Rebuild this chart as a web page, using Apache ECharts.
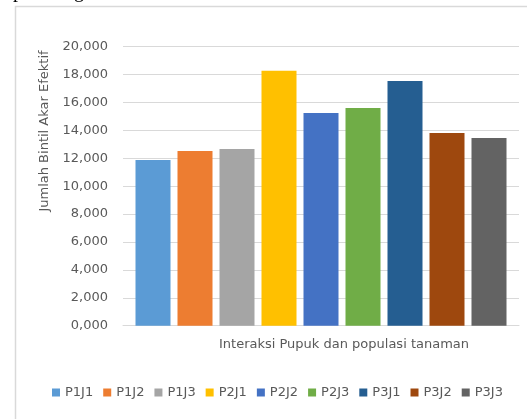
<!DOCTYPE html>
<html>
<head>
<meta charset="utf-8">
<title>Jumlah Bintil Akar Efektif</title>
<script src="https://cdn.jsdelivr.net/npm/echarts@6/dist/echarts.min.js"></script>
<style>
    html, body { margin: 0; padding: 0; background: #ffffff; }
    #chart { width: 527px; height: 419px; }
</style>
</head>
<body>
<div id="chart"></div>
<script>
// data (labels use comma as decimal mark)
const seriesNames = ['P1J1', 'P1J2', 'P1J3', 'P2J1', 'P2J2', 'P2J3', 'P3J1', 'P3J2', 'P3J3'];
const seriesValues = [11.88, 12.52, 12.67, 18.28, 15.25, 15.61, 17.54, 13.81, 13.46];
const seriesColors = ['#5b9bd5', '#ed7d31', '#a5a5a5', '#ffc000', '#4472c4', '#70ad47', '#255e91', '#9e480e', '#636363'];
const categories = ['Interaksi Pupuk dan populasi tanaman'];
const yTitle = 'Jumlah Bintil Akar Efektif';

const FONT = '"DejaVu Sans", sans-serif';
const TEXT_COLOR = '#595959';
const LINE_COLOR = '#d9d9d9';

const chart = echarts.init(document.getElementById('chart'));

const series = seriesNames.map((name, i) => ({
    name: name,
    type: 'bar',
    data: [seriesValues[i]],
    barWidth: 35,
    barGap: '20%',
    itemStyle: { color: seriesColors[i] }
}));

const option = {
    backgroundColor: '#ffffff',
    animation: false,
    textStyle: { fontFamily: FONT },
    grid: { left: 123, right: 8, top: 46.7, bottom: 93.3 },
    legend: {
        data: seriesNames,
        top: 381,
        left: 47,
        itemWidth: 8,
        itemHeight: 8,
        itemGap: 10,
        icon: 'rect',
        textStyle: { color: TEXT_COLOR, fontSize: 13, fontFamily: FONT }
    },
    xAxis: {
        type: 'category',
        data: categories,
        axisLine: { lineStyle: { color: LINE_COLOR, width: 1 } },
        axisTick: { show: false },
        axisLabel: { show: false }
    },
    yAxis: {
        type: 'value',
        min: 0,
        max: 20,
        interval: 2,
        axisLine: { show: false },
        axisTick: { show: false },
        splitLine: { lineStyle: { color: LINE_COLOR, width: 1 } },
        axisLabel: {
            color: TEXT_COLOR,
            fontSize: 13,
            margin: 15,
            formatter: v => {
                // 20.000 -> "20,000"
                return v.toFixed(3).replace('.', ',');
            }
        }
    },
    graphic: [
        // frame of the chart box (cut at right and bottom)
        {
            type: 'polyline',
            shape: { points: [[15.5, 420], [15.5, 6.5], [527, 6.5]] },
            style: { fill: null, stroke: LINE_COLOR, lineWidth: 1.5 },
            silent: true
        },
        // x axis title
        {
            type: 'text',
            x: 344,
            y: 345,
            style: {
                text: categories[0],
                fill: TEXT_COLOR,
                font: '13px ' + FONT,
                align: 'center',
                verticalAlign: 'middle'
            }
        },
        // y axis title
        {
            type: 'text',
            x: 45,
            y: 131,
            rotation: Math.PI / 2,
            style: {
                text: yTitle,
                fill: TEXT_COLOR,
                font: '13px ' + FONT,
                align: 'center',
                verticalAlign: 'middle'
            }
        },
        // descenders of the body text above the figure
        {
            type: 'text',
            x: 13,
            y: -18,
            style: { text: 'p', fill: '#000000', font: '20px "Liberation Serif", serif' }
        },
        {
            type: 'text',
            x: 74,
            y: -18,
            style: { text: 'g', fill: '#000000', font: '20px "Liberation Serif", serif' }
        }
    ],
    series: series
};

chart.setOption(option);
</script>
</body>
</html>
